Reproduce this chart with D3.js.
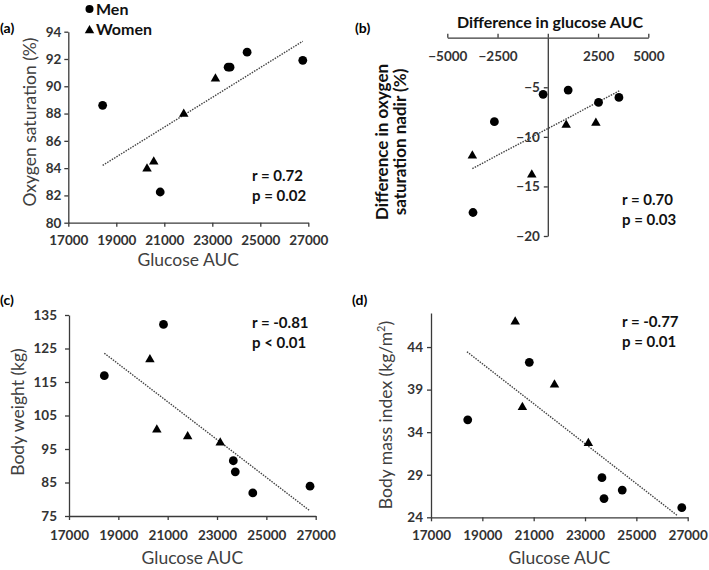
<!DOCTYPE html>
<html>
<head>
<meta charset="utf-8">
<script src="https://cdn.jsdelivr.net/npm/d3@7"></script>
<style>
  body { margin: 0; background: #fff; }
  svg { font-family: Lato, "Open Sans", sans-serif; }
</style>
</head>
<body>
<div id="chart"></div>
<script>
// glucose AUC per subject (shared by panels a, c, d)
var glucoseMen = [18431, 20830, 23660, 23740, 24450, 26770];
var glucoseWomen = [20280, 20560, 21810, 23130];

// (a) oxygen saturation (%)
var oxygenMen = [88.6, 82.25, 91.4, 91.4, 92.5, 91.9];
var oxygenWomen = [84.0, 84.5, 88.0, 90.6];
var trendA = [[18431, 84.2], [26770, 93.3]];

// (b) differences
var diffGlucoseMen = [-233, 1013, 2525, 3538, -2658, -3721];
var diffOxygenMen = [-5.71, -5.28, -6.52, -6.02, -8.47, -17.63];
var diffGlucoseWomen = [914, 2392, -3754, -797];
var diffOxygenWomen = [-8.74, -8.54, -11.84, -13.76];
var trendB = [[-3754, -13.2], [3605, -5.3]];

// (c) body weight (kg)
var weightMen = [116.9, 132.2, 91.5, 88.2, 81.9, 83.9];
var weightWomen = [121.9, 100.9, 98.9, 97.0];
var trendC = [[18431, 123.6], [26740, 76.7]];

// (d) body mass index
var bmiMen = [35.45, 42.2, 28.65, 26.2, 27.2, 25.13];
var bmiWomen = [47.05, 37.0, 39.63, 32.75];
var trendD = [[18400, 43.45], [26600, 24.2]];

var glucoseTicks = [17000, 19000, 21000, 23000, 25000, 27000];

var width = 709, height = 570;
var svg = d3.select("#chart").append("svg").attr("width", width).attr("height", height);

var axisColor = "#3a3a3a";
var textColor = "#404040";
var fmt = d3.format("d");

function triangle(cx, cy) {
  var s = 9.5, h = s * 0.87;
  return "M" + cx + "," + (cy - h * 0.6) + "L" + (cx + s / 2) + "," + (cy + h * 0.4) + "L" + (cx - s / 2) + "," + (cy + h * 0.4) + "Z";
}

function styleAxis(g) {
  g.select(".domain").attr("stroke", axisColor).attr("stroke-width", 1.3);
  g.selectAll(".tick line").attr("stroke", axisColor).attr("stroke-width", 1.3);
  g.selectAll(".tick text").attr("fill", "#333").attr("font-size", 13.5).attr("font-weight", 700).attr("font-family", "Lato, sans-serif");
}

function drawPoints(g, x, y, xm, ym, xw, yw) {
  g.selectAll("circle.men").data(xm).enter().append("circle")
    .attr("class", "men")
    .attr("cx", function (d) { return x(d); })
    .attr("cy", function (d, i) { return y(ym[i]); })
    .attr("r", 4.4).attr("fill", "#000");
  g.selectAll("path.women").data(xw).enter().append("path")
    .attr("class", "women")
    .attr("d", function (d, i) { return triangle(x(d), y(yw[i])); })
    .attr("fill", "#000");
}

function drawTrend(g, x, y, t) {
  g.append("line")
    .attr("x1", x(t[0][0])).attr("y1", y(t[0][1]))
    .attr("x2", x(t[1][0])).attr("y2", y(t[1][1]))
    .attr("stroke", "#444").attr("stroke-width", 1.4)
    .attr("stroke-dasharray", "1.5,1.2");
}

function stats(g, xpos, ypos, lines) {
  lines.forEach(function (s, i) {
    g.append("text").attr("x", xpos).attr("y", ypos + i * 19.5)
      .attr("font-size", 15).attr("font-weight", 700).attr("fill", "#111")
      .text(s);
  });
}

function panelLabel(x0, y0, s) {
  svg.append("text").attr("x", x0).attr("y", y0)
    .attr("font-size", 14).attr("font-weight", 700).attr("fill", "#000").text(s);
}

// generic glucose panel (a, c, d)
function glucosePanel(opt) {
  var x = d3.scaleLinear().domain([17000, 27000]).range(opt.xr);
  var y = d3.scaleLinear().domain(opt.yd).range(opt.yr);
  var g = svg.append("g");

  var xAxis = d3.axisBottom(x).tickValues(glucoseTicks).tickFormat(fmt).tickSize(4).tickPadding(opt.xpad).tickSizeOuter(0);
  var yAxis = d3.axisLeft(y).tickValues(opt.yticks).tickFormat(fmt).tickSize(4).tickPadding(opt.ypad).tickSizeOuter(0);
  g.append("g").attr("transform", "translate(0," + opt.yr[0] + ")").call(xAxis).call(styleAxis);
  g.append("g").attr("transform", "translate(" + opt.xr[0] + ",0)").call(yAxis).call(styleAxis);

  drawTrend(g, x, y, opt.trend);
  drawPoints(g, x, y, glucoseMen, opt.men, glucoseWomen, opt.women);

  g.append("text").attr("x", (opt.xr[0] + opt.xr[1]) / 2).attr("y", opt.xtitleY)
    .attr("text-anchor", "middle").attr("font-size", 17.5).attr("fill", textColor)
    .text("Glucose AUC");
  var yt = g.append("text")
    .attr("transform", "translate(" + opt.ytitleX + "," + opt.ytitleMid + ") rotate(-90)")
    .attr("text-anchor", "middle").attr("font-size", 17.5).attr("fill", textColor);
  if (opt.ytitleSup) {
    yt.append("tspan").text(opt.ytitle);
    yt.append("tspan").attr("font-size", 11).attr("dy", -7).text(opt.ytitleSup);
    yt.append("tspan").attr("dy", 7).text(")");
  } else {
    yt.text(opt.ytitle);
  }
  stats(g, opt.statX, opt.statY, opt.stats);
}

glucosePanel({
  xr: [68.3, 308.3], yd: [80, 94], yr: [222.7, 31.7],
  yticks: [80, 82, 84, 86, 88, 90, 92, 94], xpad: 9, ypad: 3,
  men: oxygenMen, women: oxygenWomen, trend: trendA,
  xtitleY: 266, ytitleX: 36, ytitleMid: 122, ytitle: "Oxygen saturation (%)",
  statX: 252, statY: 181, stats: ["r = 0.72", "p = 0.02"]
});

glucosePanel({
  xr: [69, 315.7], yd: [75, 135], yr: [516, 315],
  yticks: [75, 85, 95, 105, 115, 125, 135], xpad: 10, ypad: 8,
  men: weightMen, women: weightWomen, trend: trendC,
  xtitleY: 564, ytitleX: 24, ytitleMid: 412, ytitle: "Body weight (kg)",
  statX: 252, statY: 328, stats: ["r = -0.81", "p < 0.01"]
});

glucosePanel({
  xr: [431, 687.7], yd: [24, 48], yr: [517.3, 313],
  yticks: [24, 29, 34, 39, 44], xpad: 9, ypad: 4,
  men: bmiMen, women: bmiWomen, trend: trendD,
  xtitleY: 564, ytitleX: 392, ytitleMid: 415, ytitle: "Body mass index (kg/m", ytitleSup: "2",
  statX: 622, statY: 327, stats: ["r = -0.77", "p = 0.01"]
});

// panel (b): differences, axes crossing at zero
(function () {
  var x = d3.scaleLinear().domain([-5000, 5000]).range([447.3, 648.3]);
  var y = d3.scaleLinear().domain([-20, 0]).range([236, 37.7]);
  var g = svg.append("g");

  var xAxis = d3.axisTop(x).tickValues([-5000, -2500, 0, 2500, 5000]).tickSize(4).tickSizeOuter(0)
    .tickFormat(function (d) { return d === 0 ? "" : fmt(d); });
  var xg = g.append("g").attr("transform", "translate(0," + y(0) + ")").call(xAxis).call(styleAxis);
  xg.selectAll(".tick text").attr("y", 14).attr("dy", "0.71em");

  var yAxis = d3.axisLeft(y).tickValues([-20, -15, -10, -5]).tickFormat(fmt).tickSize(4).tickPadding(4).tickSizeOuter(0);
  g.append("g").attr("transform", "translate(" + x(0) + ",0)").call(yAxis).call(styleAxis);

  drawTrend(g, x, y, trendB);
  drawPoints(g, x, y, diffGlucoseMen, diffOxygenMen, diffGlucoseWomen, diffOxygenWomen);

  g.append("text").attr("x", 550).attr("y", 28).attr("text-anchor", "middle")
    .attr("font-size", 16).attr("font-weight", 700).attr("fill", "#111")
    .text("Difference in glucose AUC");
  var yt = g.append("text").attr("transform", "translate(388,142) rotate(-90)")
    .attr("text-anchor", "middle").attr("font-size", 17).attr("font-weight", 700).attr("fill", "#111");
  yt.append("tspan").attr("x", 0).attr("dy", 0).text("Difference in oxygen");
  yt.append("tspan").attr("x", 0).attr("dy", 18).text("saturation nadir (%)");

  stats(g, 622, 205, ["r = 0.70", "p = 0.03"]);
})();

panelLabel(0, 33, "(a)");
panelLabel(355, 33, "(b)");
panelLabel(0, 305, "(c)");
panelLabel(352, 305, "(d)");

// legend
var legend = svg.append("g");
legend.append("circle").attr("cx", 89.5).attr("cy", 9).attr("r", 4).attr("fill", "#000");
legend.append("text").attr("x", 96).attr("y", 15).attr("font-size", 16).attr("font-weight", 700).attr("fill", "#111").text("Men");
legend.append("path").attr("d", triangle(89.5, 30)).attr("fill", "#000");
legend.append("text").attr("x", 96).attr("y", 35).attr("font-size", 16).attr("font-weight", 700).attr("fill", "#111").text("Women");
</script>
</body>
</html>
